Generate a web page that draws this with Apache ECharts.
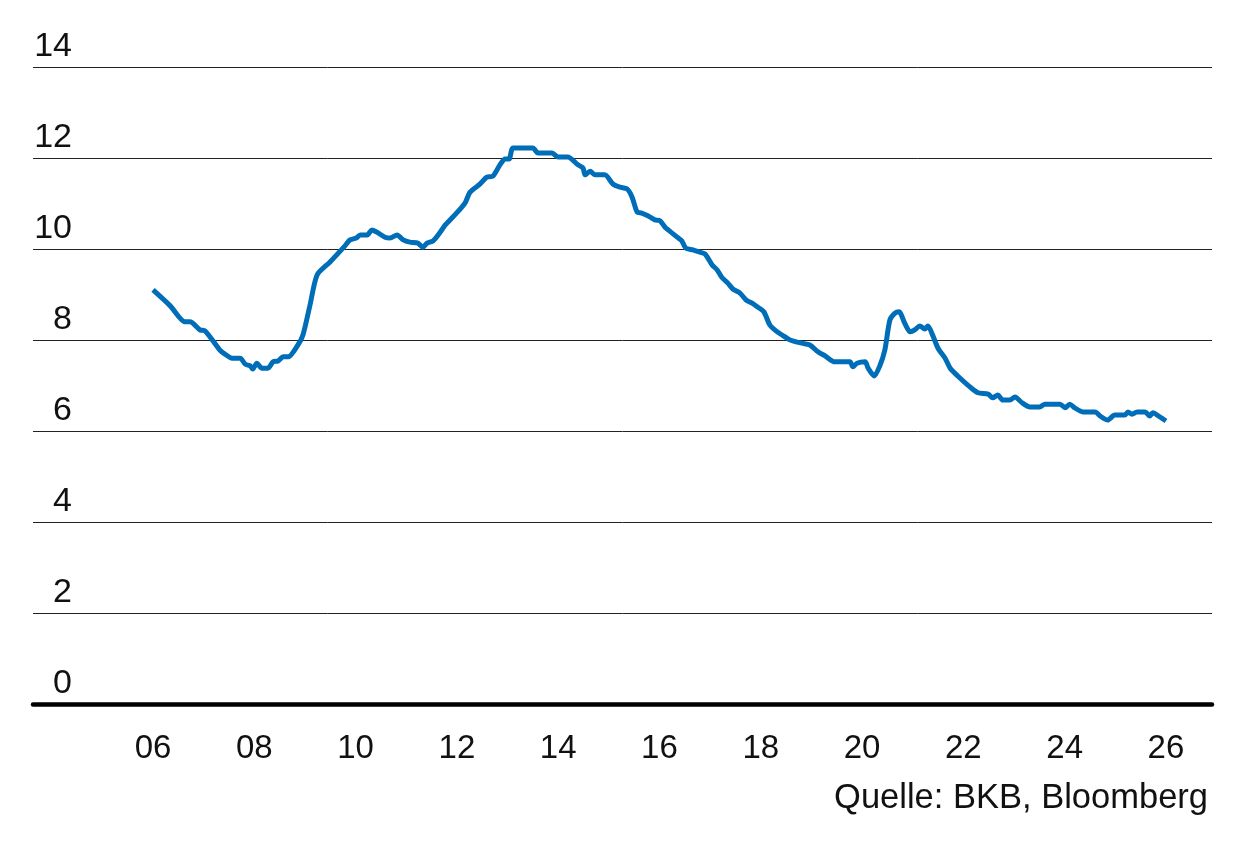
<!DOCTYPE html>
<html>
<head>
<meta charset="utf-8">
<script src="https://cdn.jsdelivr.net/npm/echarts@6/dist/echarts.min.js"></script>
<style>
html,body{margin:0;padding:0;background:#fff;}
#chart{width:1246px;height:854px;}
</style>
</head>
<body>
<div id="chart"></div>
<script>
// Decimal years (x) and values (y)
var years = [
2006.00,2006.34,2006.63,2006.73,2006.93,2007.03,2007.32,2007.42,2007.56,2007.72,
2007.82,2007.92,2007.97,2008.05,2008.15,2008.27,2008.37,2008.47,2008.57,2008.67,
2008.86,2008.96,2009.10,2009.24,2009.49,2009.79,2009.89,2010.01,2010.09,2010.23,
2010.32,2010.42,2010.58,2010.68,2010.82,2010.94,2011.07,2011.23,2011.33,2011.41,
2011.53,2011.67,2011.77,2011.96,2012.16,2012.26,2012.46,2012.59,2012.71,2012.85,
2012.95,2013.03,2013.11,2013.50,2013.60,2013.88,2014.00,2014.19,2014.39,2014.49,
2014.53,2014.63,2014.73,2014.92,2015.08,2015.22,2015.36,2015.46,2015.56,2015.65,
2015.77,2015.91,2016.01,2016.11,2016.25,2016.35,2016.44,2016.52,2016.66,2016.80,
2016.90,2017.04,2017.14,2017.23,2017.35,2017.45,2017.59,2017.71,2017.83,2017.93,
2018.06,2018.18,2018.30,2018.42,2018.58,2018.81,2018.97,2019.13,2019.27,2019.46,
2019.76,2019.82,2019.90,2020.06,2020.12,2020.24,2020.35,2020.45,2020.55,2020.65,
2020.73,2020.85,2020.95,2021.04,2021.14,2021.24,2021.30,2021.40,2021.50,2021.64,
2021.74,2021.89,2022.13,2022.29,2022.49,2022.58,2022.68,2022.78,2022.92,2023.02,
2023.16,2023.31,2023.51,2023.61,2023.91,2024.01,2024.10,2024.20,2024.36,2024.60,
2024.70,2024.85,2024.99,2025.19,2025.25,2025.33,2025.43,2025.59,2025.68,2025.74,
2025.88,2026.00
];
var values = [
9.10,8.75,8.40,8.40,8.22,8.20,7.78,7.69,7.60,7.60,
7.47,7.43,7.36,7.49,7.38,7.38,7.52,7.54,7.63,7.63,
7.89,8.11,8.77,9.43,9.71,10.07,10.20,10.24,10.31,10.31,
10.42,10.37,10.26,10.24,10.31,10.20,10.15,10.13,10.04,10.13,
10.18,10.37,10.53,10.75,11.01,11.25,11.43,11.58,11.60,11.85,
11.98,11.98,12.22,12.22,12.11,12.11,12.02,12.02,11.85,11.78,
11.63,11.71,11.63,11.63,11.43,11.36,11.32,11.14,10.81,10.79,
10.73,10.64,10.62,10.48,10.35,10.26,10.18,10.02,9.98,9.93,
9.89,9.65,9.54,9.38,9.25,9.12,9.03,8.88,8.81,8.73,
8.62,8.33,8.20,8.11,8.00,7.93,7.89,7.74,7.65,7.52,
7.52,7.41,7.49,7.52,7.38,7.21,7.43,7.78,8.44,8.59,
8.62,8.35,8.18,8.22,8.31,8.24,8.31,8.09,7.82,7.60,
7.38,7.21,6.97,6.84,6.81,6.73,6.79,6.68,6.68,6.75,
6.62,6.53,6.53,6.59,6.59,6.51,6.59,6.51,6.42,6.42,
6.33,6.24,6.35,6.35,6.42,6.37,6.42,6.42,6.33,6.40,
6.31,6.22
];
var xTickYears = [2006,2008,2010,2012,2014,2016,2018,2020,2022,2024,2026];
var yTicks = [0,2,4,6,8,10,12,14];
var sourceText = 'Quelle: BKB, Bloomberg';

var FONT = '"Liberation Sans", Arial, Helvetica, sans-serif';
var seriesData = years.map(function(y, i){ return [y, values[i]]; });

var chart = echarts.init(document.getElementById('chart'), null, {renderer:'canvas'});
chart.setOption({
  animation: false,
  backgroundColor: '#ffffff',
  grid: {left: 33, right: 34, top: 67, bottom: 150, containLabel: false},
  xAxis: {
    type: 'value',
    min: 2003.63,
    max: 2026.91,
    axisLine: {show: true, onZero: false, lineStyle: {color: '#000', width: 4.5}},
    axisTick: {show: false},
    splitLine: {show: false},
    axisLabel: {
      customValues: xTickYears,
      margin: 28,
      fontFamily: FONT,
      fontSize: 33,
      color: '#111',
      formatter: function(v){ var s = String(Math.round(v) % 100); return s.length < 2 ? '0' + s : s; }
    }
  },
  yAxis: {
    type: 'value',
    min: 0,
    max: 14,
    interval: 2,
    axisLine: {show: false},
    axisTick: {show: false},
    splitLine: {show: true, lineStyle: {color: '#222', width: 1}},
    axisLabel: {
      inside: true,
      margin: 39,
      align: 'right',
      verticalAlign: 'bottom',
      padding: [0, 0, 3, 0],
      fontFamily: FONT,
      fontSize: 34,
      color: '#111',
      customValues: yTicks
    }
  },
  graphic: [{
    type: 'text',
    right: 38,
    top: 781,
    style: {text: sourceText, font: '34.5px ' + FONT, fill: '#111'}
  }],
  series: [{
    type: 'line',
    data: seriesData,
    showSymbol: false,
    smooth: 0.25,
    lineStyle: {color: '#006db8', width: 5},
    z: 5
  }]
});
</script>
</body>
</html>
